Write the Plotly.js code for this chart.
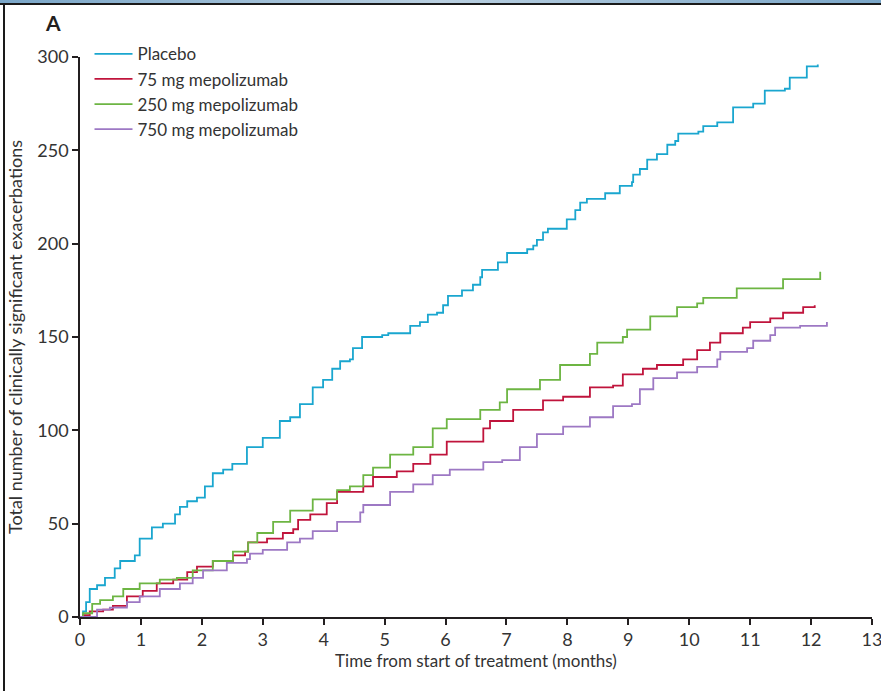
<!DOCTYPE html>
<html>
<head>
<meta charset="utf-8">
<script src="https://cdn.plot.ly/plotly-3.0.1.min.js"></script>
<style>
  html, body { margin: 0; padding: 0; background: #fff; }
  #wrap { position: relative; width: 881px; height: 691px; overflow: hidden; }
  #chart { position: absolute; left: 0; top: 0; width: 881px; height: 691px; }
  #topstrip { position: absolute; left: 0; top: 0; width: 881px; height: 3px; background: linear-gradient(90deg, #7aa6c8, #b9cfe0 50%, #7aa6c8); }
  #topline { position: absolute; left: 0; top: 3px; width: 881px; height: 2px; background: #1a1a1a; }
  #leftline { position: absolute; left: 3px; top: 3px; width: 2px; height: 688px; background: #1a1a1a; }
</style>
</head>
<body>
<div id="wrap">
  <div id="chart"></div>
  <div id="topstrip"></div>
  <div id="topline"></div>
  <div id="leftline"></div>
</div>
<script>
// ---- Data ----
const seriesNames = ["Placebo", "75 mg mepolizumab", "250 mg mepolizumab", "750 mg mepolizumab"];

const placeboMonths = [0,0.05,0.10,0.16,0.28,0.41,0.57,0.66,0.90,0.98,1.18,1.36,1.56,1.64,1.76,1.92,2.05,2.18,2.35,2.50,2.74,3.00,3.28,3.45,3.61,3.82,3.99,4.14,4.27,4.43,4.48,4.63,4.96,5.06,5.42,5.58,5.71,5.86,5.96,6.04,6.27,6.45,6.57,6.60,6.86,7.01,7.34,7.44,7.50,7.60,7.68,7.99,8.13,8.21,8.32,8.62,8.86,9.06,9.08,9.19,9.31,9.47,9.64,9.77,9.82,10.15,10.23,10.46,10.72,11.05,11.24,11.57,11.65,11.93,12.11];
const placeboCounts = [0,3,8,15,17,21,26,30,33,42,48,50,55,59,62,64,70,77,79,82,91,96,105,107,114,123,127,133,137,138,144,150,151,152,156,158,162,163,167,172,175,178,182,186,190,195,197,199,202,206,208,213,218,222,224,227,231,233,237,240,245,248,253,255,259,260,263,265,273,275,282,283,289,295,296];

const mg75Months = [0,0.05,0.16,0.38,0.54,0.77,1.03,1.26,1.53,1.76,1.92,2.18,2.51,2.71,2.76,3.07,3.33,3.50,3.58,3.78,4.05,4.22,4.65,4.81,5.20,5.47,5.75,6.02,6.62,6.73,7.11,7.60,7.93,8.37,8.75,8.91,9.24,9.47,9.90,10.13,10.34,10.51,10.88,11.00,11.33,11.54,11.87,12.06];
const mg75Counts = [0,1,3,4,6,11,14,18,20,24,27,30,33,35,40,42,45,47,52,55,61,67,70,75,78,82,87,94,101,105,111,116,118,123,124,130,133,135,138,143,147,152,155,158,160,163,166,167];

const mg250Months = [0,0.05,0.20,0.33,0.54,0.71,0.98,1.31,1.59,1.85,2.18,2.51,2.76,2.91,3.17,3.45,3.82,4.22,4.43,4.65,4.81,5.09,5.47,5.79,6.02,6.57,6.89,7.01,7.55,7.88,8.37,8.49,8.91,8.98,9.36,9.80,10.13,10.23,10.78,11.54,12.15];
const mg250Counts = [0,2,7,9,11,15,18,20,21,25,30,35,40,45,51,57,63,68,70,76,80,87,91,101,106,111,115,122,127,135,141,147,150,154,161,166,168,171,176,181,185];

const mg750Months = [0,0.05,0.28,0.49,0.77,0.98,1.31,1.64,1.85,2.02,2.41,2.74,2.79,3.00,3.40,3.61,3.82,4.22,4.60,4.65,5.09,5.47,5.79,6.07,6.62,6.93,7.22,7.50,7.93,8.37,8.75,9.06,9.19,9.41,9.80,10.13,10.46,10.51,10.95,11.05,11.33,11.41,11.82,12.26];
const mg750Counts = [0,0,4,5,8,11,15,18,21,25,29,31,34,36,40,42,46,51,56,60,67,71,76,79,83,84,91,98,102,107,113,114,122,128,131,134,138,142,144,148,151,155,156,158];

const xTicks = [0,1,2,3,4,5,6,7,8,9,10,11,12,13];
const yTicks = [0,50,100,150,200,250,300];

// ---- Styles ----
const colors = ["#1aa6cf", "#c0143c", "#6db543", "#9d78c4"];
const fontFamily = "Lato, 'Open Sans', sans-serif";
const textColor = "#333333";

const xs = [placeboMonths, mg75Months, mg250Months, mg750Months];
const ys = [placeboCounts, mg75Counts, mg250Counts, mg750Counts];

const traces = seriesNames.map((name, i) => ({
  type: "scatter",
  mode: "lines",
  name: name,
  x: xs[i],
  y: ys[i],
  line: { color: colors[i], width: 1.8, shape: "hv" },
  hoverinfo: "x+y+name"
}));

const axisCommon = {
  showgrid: false,
  zeroline: false,
  showline: true,
  linecolor: "#231f20",
  linewidth: 1.6,
  ticks: "outside",
  ticklen: 6,
  tickwidth: 1.6,
  tickcolor: "#231f20",
  tickfont: { family: fontFamily, size: 18, color: textColor },
  ticklabeloverflow: "allow",
  fixedrange: true
};

const layout = {
  width: 881,
  height: 691,
  margin: { l: 80, r: 9, t: 57, b: 74 },
  paper_bgcolor: "rgba(0,0,0,0)",
  plot_bgcolor: "rgba(0,0,0,0)",
  showlegend: true,
  legend: {
    x: 0.012, y: 1.037, xanchor: "left", yanchor: "top",
    font: { family: fontFamily, size: 17, color: textColor },
    bgcolor: "rgba(0,0,0,0)",
    itemwidth: 38,
    tracegroupgap: 0
  },
  xaxis: Object.assign({}, axisCommon, {
    range: [0, 13],
    tickmode: "array",
    tickvals: xTicks,
    ticktext: xTicks.map(String),
    title: { text: "Time from start of treatment (months)", font: { family: fontFamily, size: 17, color: textColor }, standoff: 4 }
  }),
  yaxis: Object.assign({}, axisCommon, {
    range: [0, 300],
    tickmode: "array",
    tickvals: yTicks,
    ticktext: yTicks.map(String),
    title: { text: "Total number of clinically significant exacerbations", font: { family: fontFamily, size: 18, color: textColor }, standoff: 10 }
  }),
  annotations: [{
    text: "<b>A</b>",
    xref: "paper", yref: "paper",
    x: -0.034, y: 1.0625, xanchor: "center", yanchor: "middle",
    showarrow: false,
    font: { family: fontFamily, size: 21, color: "#231f20" }
  }]
};

Plotly.newPlot("chart", traces, layout, { displayModeBar: false });
</script>
</body>
</html>
